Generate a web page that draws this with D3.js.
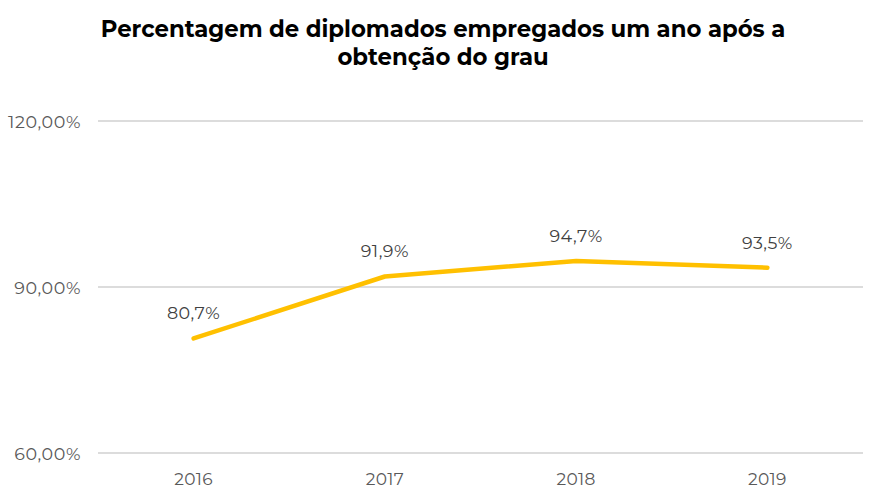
<!DOCTYPE html>
<html><head><meta charset="utf-8">
<script src="https://cdn.jsdelivr.net/npm/d3@7"></script>
<style>body{margin:0;background:#fff}svg{display:block}</style>
</head><body>
<svg id="c" width="886" height="502"></svg>
<script>
const years = ["2016","2017","2018","2019"];
const values = [80.7, 91.9, 94.7, 93.5];
const valueLabels = ["80,7%","91,9%","94,7%","93,5%"];
const yTicks = [60, 90, 120];
const yTickLabels = ["60,00%","90,00%","120,00%"];
const titleLines = ["Percentagem de diplomados empregados um ano após a","obtenção do grau"];

const svg = d3.select("#c");
const font = "Montserrat, 'Open Sans', sans-serif";
const x = d3.scalePoint().domain(years).range([98, 863]).padding(0.5);
const y = d3.scaleLinear().domain([60,120]).range([453,121]);

svg.append("g").selectAll("text").data(titleLines).join("text")
  .attr("x", 443).attr("y",(d,i)=>37+i*28).attr("text-anchor","middle")
  .attr("font-family",font).attr("font-weight","bold").attr("font-size",22.8).attr("fill","#000")
  .text(d=>d);

svg.append("g").selectAll("line").data(yTicks).join("line")
  .attr("x1",98).attr("x2",863).attr("y1",d=>y(d)).attr("y2",d=>y(d))
  .attr("stroke","#d0d0d0").attr("stroke-width",1.3);

svg.append("g").selectAll("text").data(yTicks).join("text")
  .attr("x",81).attr("y",d=>y(d)+6.5).attr("text-anchor","end")
  .attr("font-family",font).attr("font-size",17.5).attr("letter-spacing",0.6).attr("fill","#595959")
  .text((d,i)=>yTickLabels[i]);

svg.append("g").selectAll("text").data(years).join("text")
  .attr("x",d=>x(d)).attr("y",485).attr("text-anchor","middle")
  .attr("font-family",font).attr("font-size",17).attr("letter-spacing",0.3).attr("fill","#595959")
  .text(d=>d);

const pts = years.map((yr,i)=>[x(yr), y(values[i])]);
svg.append("path").attr("d", d3.line()(pts)).attr("fill","none")
  .attr("stroke","#FFC000").attr("stroke-width",4.5).attr("stroke-linecap","round").attr("stroke-linejoin","round");

svg.append("g").selectAll("text").data(years).join("text")
  .attr("x",d=>x(d)).attr("y",(d,i)=>y(values[i])-19).attr("text-anchor","middle")
  .attr("font-family",font).attr("font-size",17.5).attr("letter-spacing",0.5).attr("fill","#404040")
  .text((d,i)=>valueLabels[i]);
</script>
</body></html>
